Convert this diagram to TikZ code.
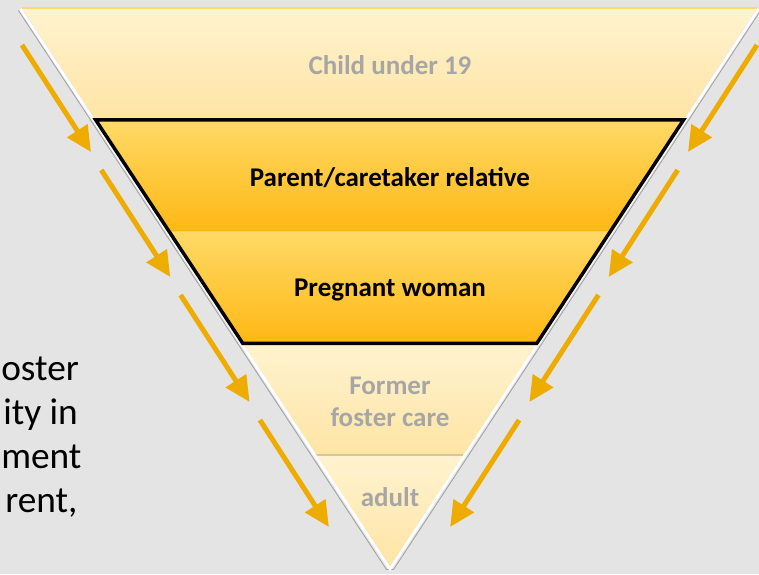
\documentclass[tikz,border=0pt]{standalone}
\usepackage{fontspec}
\setmainfont{Carlito}
\usetikzlibrary{arrows.meta,positioning,calc}

\definecolor{bggray}{RGB}{228,228,228}
\definecolor{paletop}{RGB}{255,243,207}
\definecolor{palebot}{RGB}{255,228,164}
\definecolor{goldtop}{RGB}{255,217,102}
\definecolor{goldbot}{RGB}{255,184,20}
\definecolor{seamline}{RGB}{214,198,156}
\definecolor{flowgold}{RGB}{238,172,0}
\definecolor{dimtext}{RGB}{166,166,166}

\tikzset{
  paleband/.style={top color=paletop, bottom color=palebot},
  goldband/.style={top color=goldtop, bottom color=goldbot},
  bandlabel/.style={font=\fontsize{20.25}{24}\selectfont\bfseries, align=center},
  sidetext/.style={font=\fontsize{28}{33}\selectfont, anchor=base west, inner sep=0pt},
  flow/.style={flowgold, line width=3.75pt, -{Triangle[length=19pt,width=17.5pt]}},
}

\begin{document}
\begin{tikzpicture}[x=0.75pt,y=-0.75pt]
\fill[bggray] (0,0) rectangle (759,574);
\useasboundingbox (0,0) rectangle (759,574);
\coordinate (tl) at (22,8);
\coordinate (tr) at (757,8);
\coordinate (apex) at (390,567);

% five bands of equal height
\foreach \i/\sty in {0/paleband,1/goldband,2/goldband,3/paleband,4/paleband} {
  \pgfmathsetmacro\a{\i/5}
  \pgfmathsetmacro\b{(\i+1)/5}
  \shade[\sty] ($(tl)!\a!(apex)$) -- ($(tr)!\a!(apex)$) -- ($(tr)!\b!(apex)$) -- ($(tl)!\b!(apex)$) -- cycle;
}
\draw[goldtop, line width=0.9pt] (tl) -- (tr);
\draw[seamline, line width=1.2pt] ($(tl)!0.8!(apex)$) -- ($(tr)!0.8!(apex)$);

% bevel along the slanted sides
\draw[gray!75, line width=0.6pt] ($(tl)+(-3.6,2.4)$) -- ($(apex)+(-3.6,2.4)$) -- ($(apex)+(3.6,2.4)$) -- ($(tr)+(3.6,2.4)$);
\draw[white, line width=2pt] ($(tl)+(-1.6,1.1)$) -- ($(apex)+(0,2)$) -- ($(tr)+(1.6,1.1)$);

% outlined middle bands
\draw[line width=2.6pt, line join=miter] ($(tl)!0.2!(apex)$) -- ($(tr)!0.2!(apex)$)
  -- ($(tr)!0.6!(apex)$) -- ($(tl)!0.6!(apex)$) -- cycle;

\node[bandlabel, text=dimtext] (child) at (390,65) {Child under 19};
\node[bandlabel] (parent) at (390,178) {Parent/caretaker relative};
\node[bandlabel] (pregnant) at (390,290) {Pregnant woman};
\node[bandlabel, text=dimtext] (foster) at (390,402) {Former\\foster care};
\node[bandlabel, text=dimtext] (adult) at (390,497) {adult};

% arrows down both sides
\foreach \i in {0,...,3} {
  \coordinate (ls\i) at (22+79.3*\i, 45+125*\i);
  \coordinate (le\i) at (91+79.3*\i, 152+125*\i);
  \coordinate (rs\i) at (757-79.3*\i, 45+125*\i);
  \coordinate (re\i) at (688-79.3*\i, 152+125*\i);
  \draw[flow] (ls\i) -- (le\i);
  \draw[flow] (rs\i) -- (re\i);
}

\node[sidetext] (line1) at (1,380) {oster};
\node[sidetext] (line2) at (3,424) {ity in};
\node[sidetext] (line3) at (1,468) {ment};
\node[sidetext] (line4) at (5,512) {rent,};
\end{tikzpicture}
\end{document}
